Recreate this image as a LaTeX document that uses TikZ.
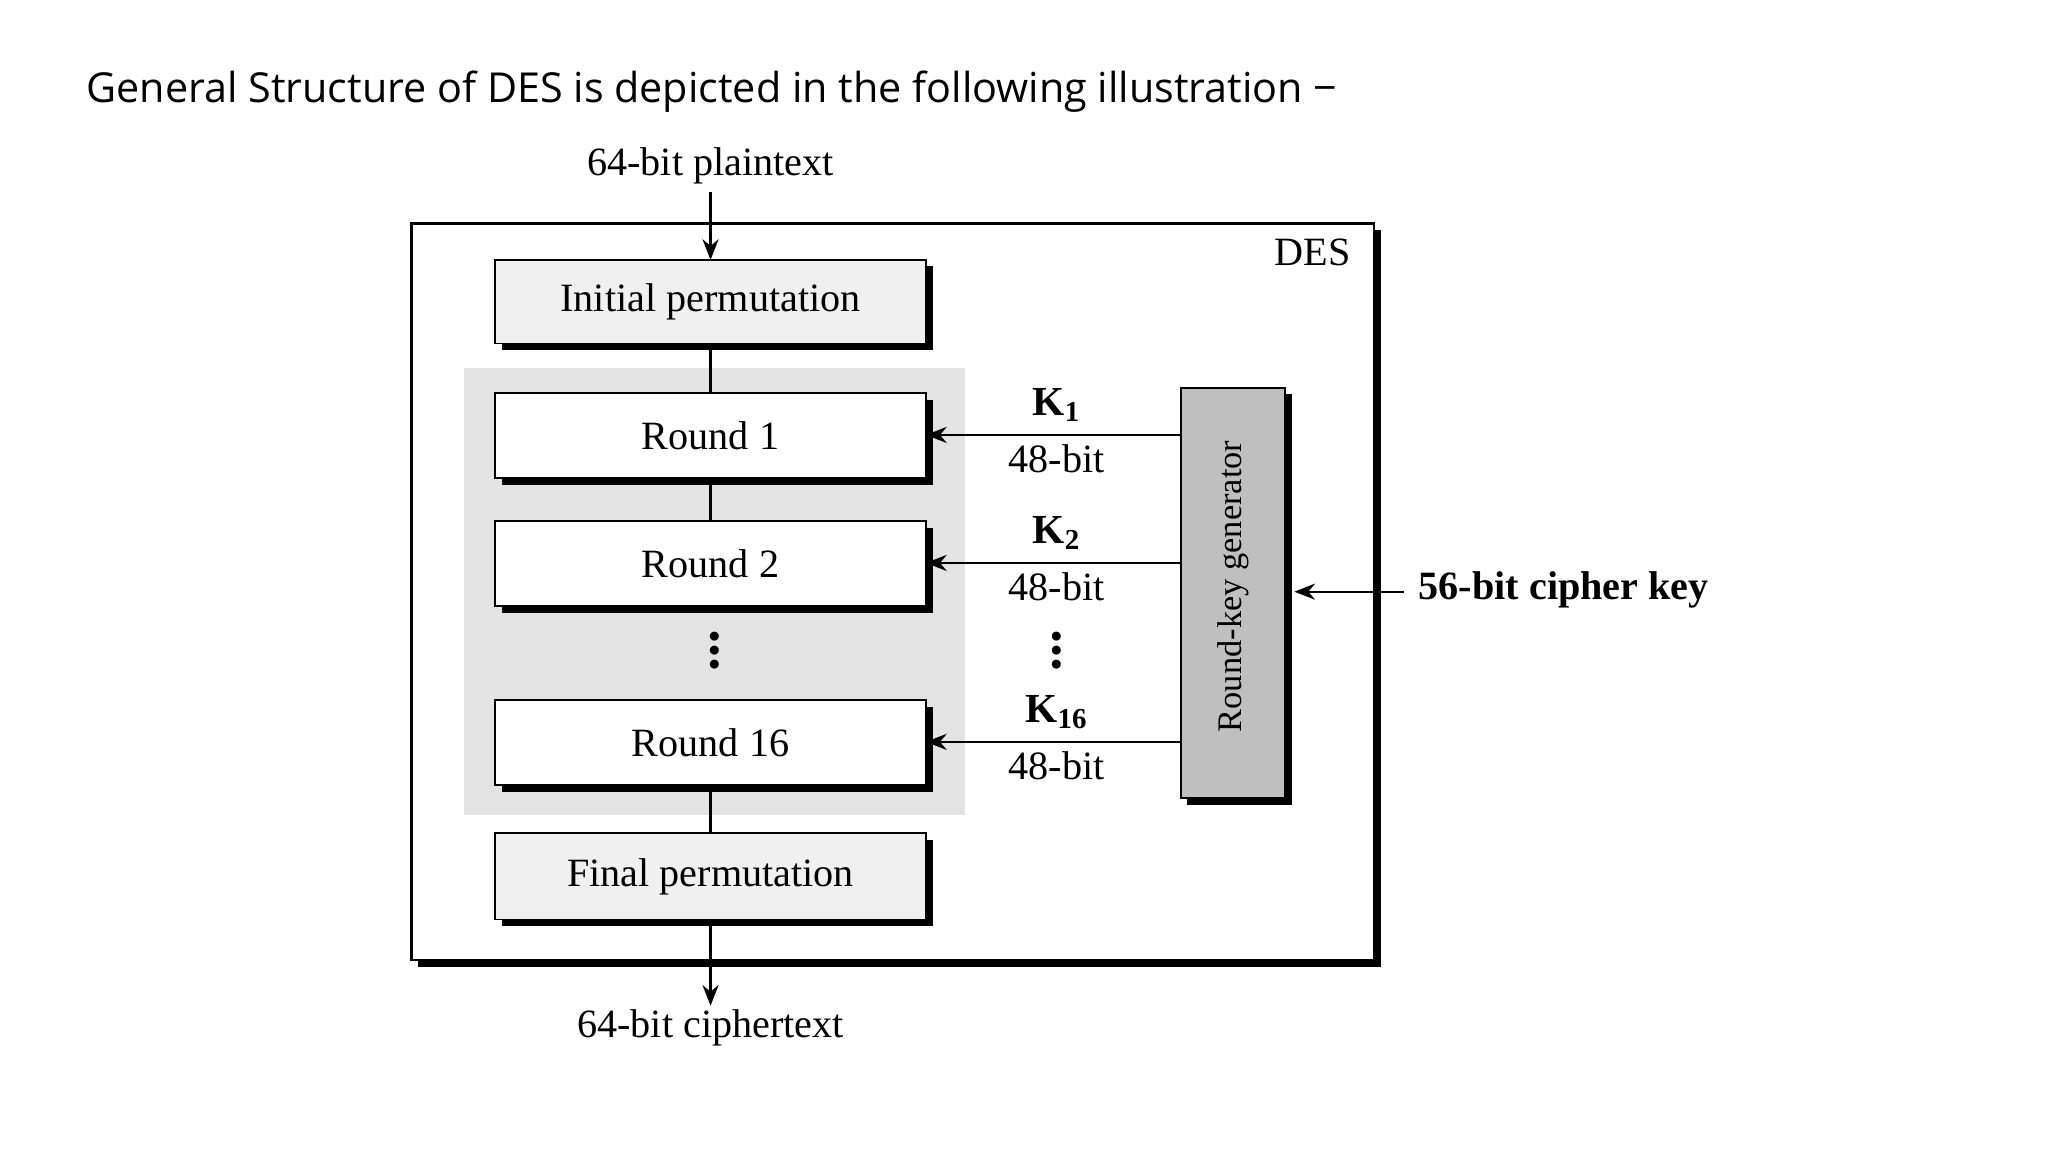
\documentclass[tikz,border=0pt]{standalone}
\usepackage{fontspec}
\setmainfont{Liberation Serif}
\newfontfamily\titlefont{Open Sans}
\usetikzlibrary{arrows.meta}
\begin{document}
\begin{tikzpicture}[x=0.02cm,y=-0.02cm,
  lbl/.style={font=\fontsize{17.5}{21}\selectfont},
  conn/.style={line width=1pt},
  arr/.style={conn,-{Stealth[length=9pt,width=7pt]}}]
\useasboundingbox (0,0) rectangle (1568,882);
\node[anchor=west,font=\titlefont\fontsize{18}{22}\selectfont] (title) at (60,70) {General Structure of DES is depicted in the following illustration −};
% outer DES box
\fill (320,176) rectangle (1057,740);
\draw[line width=1.2pt,fill=white] (315,171) rectangle (1052,735);
\node[lbl] (des) at (1005,193) {DES};
% gray panel
\fill[gray!22] (355,282) rectangle (739,624);
% boxes
\foreach \n/\ya/\yb/\c/\t in {ip/199/263/gray!12/Initial permutation, r1/301/366/white/Round 1, r2/399/464/white/Round 2, r16/536/601/white/Round 16, fp/638/704/gray!12/Final permutation}{
  \fill (384,\ya+5) rectangle (714,\yb+5);
  \draw[fill=\c,line width=0.8pt] (379,\ya) rectangle (709,\yb);
  \node[lbl] (\n) at (544,{(\ya+\yb)/2}) {\t};
  \coordinate (\n t) at (544,\ya);
  \coordinate (\n b) at (544,\yb);
}
\node[lbl] (pt) at (544,127) {64-bit plaintext};
\draw[arr] (pt.south) -- (ipt);
\draw[conn] (ipb) -- (r1t);
\draw[conn] (r1b) -- (r2t);
\draw[conn] (r16b) -- (fpt);
\coordinate (ctop) at (544,770);
\draw[arr] (fpb) -- (ctop);
\node[lbl] (ct) at (544,787) {64-bit ciphertext};
\node[font=\bfseries\fontsize{24}{24}\selectfont] (d1) at (547,498) {\rotatebox{90}{...}};
\node[font=\bfseries\fontsize{24}{24}\selectfont] (d2) at (809,498) {\rotatebox{90}{...}};
% key generator
\fill (909,302) rectangle (989,616);
\draw[fill=gray!50,line width=0.8pt] (904,297) rectangle (984,611);
\node[font=\fontsize{15}{18}\selectfont,rotate=90] (rkg) at (944,449) {Round-key generator};
\foreach \y/\k/\nm in {333/1/a,431/2/b,568/16/c}{
  \coordinate (g\nm) at (904,\y);
  \coordinate (h\nm) at (709,\y);
  \draw[arr] (g\nm) -- (h\nm);
  \node[font=\bfseries\fontsize{18}{20}\selectfont] (k\nm) at (809,{\y-23}) {K$_{\mathbf{\k}}$};
  \node[lbl] (b\nm) at (809,{\y+18}) {48-bit};
}
\coordinate (ks) at (1075,453);
\coordinate (ke) at (991,453);
\draw[arr] (ks) -- (ke);
\node[font=\bfseries\fontsize{17.5}{21}\selectfont,anchor=west] (ck) at (1080,452) {56-bit cipher key};
\end{tikzpicture}
\end{document}
